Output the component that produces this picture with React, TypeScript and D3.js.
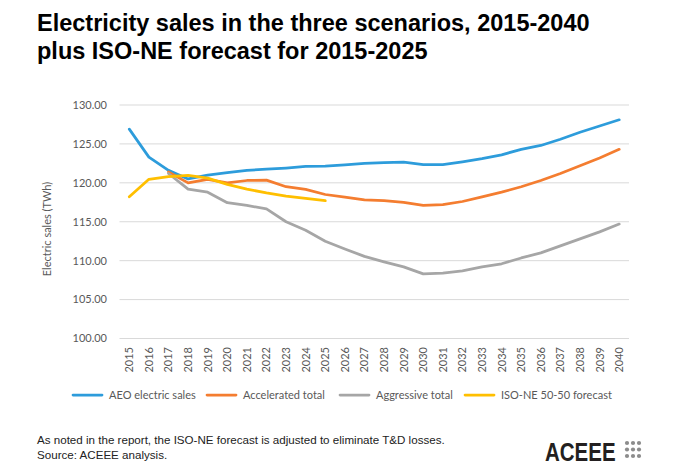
import React, { useEffect, useRef } from "react";
import * as d3 from "d3";

// chart data
const years = [
  2015, 2016, 2017, 2018, 2019, 2020, 2021, 2022, 2023, 2024, 2025, 2026, 2027,
  2028, 2029, 2030, 2031, 2032, 2033, 2034, 2035, 2036, 2037, 2038, 2039, 2040,
];
const aeoSales = [
  126.9, 123.3, 121.6, 120.5, 121.0, 121.3, 121.6, 121.75, 121.9, 122.1, 122.15,
  122.3, 122.5, 122.6, 122.65, 122.35, 122.35, 122.7, 123.1, 123.6, 124.3, 124.8,
  125.6, 126.5, 127.3, 128.1,
];
const acceleratedTotal = [
  null, null, 121.4, 120.0, 120.45, 120.0, 120.3, 120.35, 119.5, 119.15, 118.5,
  118.15, 117.8, 117.7, 117.5, 117.1, 117.2, 117.6, 118.2, 118.8, 119.5, 120.3,
  121.2, 122.2, 123.2, 124.3,
];
const aggressiveTotal = [
  null, null, 121.2, 119.2, 118.8, 117.45, 117.1, 116.65, 115.0, 113.9, 112.5,
  111.5, 110.55, 109.85, 109.2, 108.3, 108.4, 108.7, 109.2, 109.6, 110.35, 111.0,
  111.9, 112.8, 113.7, 114.7,
];
const isoForecast = [
  118.2, 120.45, 120.8, 120.95, 120.6, 119.8, 119.2, 118.7, 118.3, 118.0, 117.7,
];
const yTicks = [100, 105, 110, 115, 120, 125, 130];

const seriesNames = [
  "AEO electric sales",
  "Accelerated total",
  "Aggressive total",
  "ISO-NE 50-50 forecast",
];
const seriesValues = [aeoSales, acceleratedTotal, aggressiveTotal, isoForecast];

const ElectricityChart = () => {
  const svgRef = useRef<SVGSVGElement | null>(null);

  useEffect(() => {
    const svg = d3.select(svgRef.current);
    svg.selectAll("*").remove();

    const width = 680;
    const height = 473;
    const colors = ["#2D9CDB", "#F47D30", "#A6A6A6", "#FFBF00"];
    const axisColor = "#595959";
    const chartFont = "Lato, 'Open Sans', sans-serif";
    const headFont = "'Liberation Sans', Arial, sans-serif";

    svg.attr("width", width).attr("height", height);

    // plot area
    const left = 119.5;
    const right = 629;
    const x = d3
      .scalePoint<number>()
      .domain(years)
      .range([left, right])
      .padding(0.5);
    const y = d3.scaleLinear().domain([100, 130]).range([338.5, 105]);

    // title
    const title = svg
      .append("text")
      .attr("font-family", headFont)
      .attr("font-weight", "bold")
      .attr("font-size", 23.5)
      .attr("fill", "#000");
    title.append("tspan").attr("x", 37).attr("y", 31)
      .text("Electricity sales in the three scenarios, 2015-2040");
    title.append("tspan").attr("x", 37).attr("y", 59)
      .text("plus ISO-NE forecast for 2015-2025");

    // gridlines + y labels
    const grid = svg.append("g");
    yTicks.forEach((t) => {
      grid
        .append("line")
        .attr("x1", left)
        .attr("x2", right)
        .attr("y1", y(t))
        .attr("y2", y(t))
        .attr("stroke", "#d9d9d9")
        .attr("stroke-width", 1);
      grid
        .append("text")
        .attr("x", 107)
        .attr("y", y(t))
        .attr("dy", "0.35em")
        .attr("text-anchor", "end")
        .attr("font-family", chartFont)
        .attr("font-size", 11)
        .attr("fill", axisColor)
        .text(d3.format(".2f")(t));
    });

    // x labels, rotated
    years.forEach((yr) => {
      svg
        .append("text")
        .attr("transform", `translate(${x(yr)! + 4},${347}) rotate(-90)`)
        .attr("text-anchor", "end")
        .attr("font-family", chartFont)
        .attr("font-size", 11)
        .attr("fill", axisColor)
        .text(yr);
    });

    // axis title
    svg
      .append("text")
      .attr("transform", `translate(51,229) rotate(-90)`)
      .attr("text-anchor", "middle")
      .attr("font-family", chartFont)
      .attr("font-size", 11)
      .attr("fill", axisColor)
      .text("Electric sales (TWh)");

    // series lines
    seriesValues.forEach((vals, i) => {
      const pts = vals.map((v, j) => [years[j], v] as [number, number | null]);
      const line = d3
        .line<[number, number | null]>()
        .defined((d) => d[1] != null)
        .x((d) => x(d[0])!)
        .y((d) => y(d[1] as number));
      svg
        .append("path")
        .datum(pts)
        .attr("d", line)
        .attr("fill", "none")
        .attr("stroke", colors[i])
        .attr("stroke-width", 2.75)
        .attr("stroke-linejoin", "round")
        .attr("stroke-linecap", "round");
    });

    // legend
    const legendX = [73, 207, 340, 465];
    seriesNames.forEach((name, i) => {
      const g = svg.append("g").attr("transform", `translate(${legendX[i]},395)`);
      g.append("line")
        .attr("x1", 0)
        .attr("x2", 29)
        .attr("stroke", colors[i])
        .attr("stroke-width", 2.75)
        .attr("stroke-linecap", "round");
      g.append("text")
        .attr("x", 36)
        .attr("dy", "0.35em")
        .attr("font-family", chartFont)
        .attr("font-size", 11)
        .attr("fill", axisColor)
        .text(name);
    });

    // footnote
    const note = svg
      .append("text")
      .attr("font-family", headFont)
      .attr("font-size", 11.6)
      .attr("fill", "#222");
    note.append("tspan").attr("x", 37).attr("y", 444)
      .text("As noted in the report, the ISO-NE forecast is adjusted to eliminate T&D losses.");
    note.append("tspan").attr("x", 37).attr("y", 459)
      .text("Source: ACEEE analysis.");

    // ACEEE logo
    svg
      .append("text")
      .attr("transform", "translate(545,461) scale(1,1.25)")
      .attr("font-family", headFont)
      .attr("font-weight", "bold")
      .attr("font-size", 20.5)
      .attr("fill", "#231f20")
      .text("ACEEE");
    for (let r = 0; r < 3; r++) {
      for (let c = 0; c < 3; c++) {
        svg
          .append("circle")
          .attr("cx", 627 + c * 6)
          .attr("cy", 443 + r * 6.5)
          .attr("r", 2.1)
          .attr("fill", "#8c8c8c");
      }
    }
  }, []);

  return (
    <svg
      ref={svgRef}
      style={{ position: "absolute", left: 0, top: 0, background: "#fff" }}
    ></svg>
  );
};

export default function App() {
  return <ElectricityChart />;
}
